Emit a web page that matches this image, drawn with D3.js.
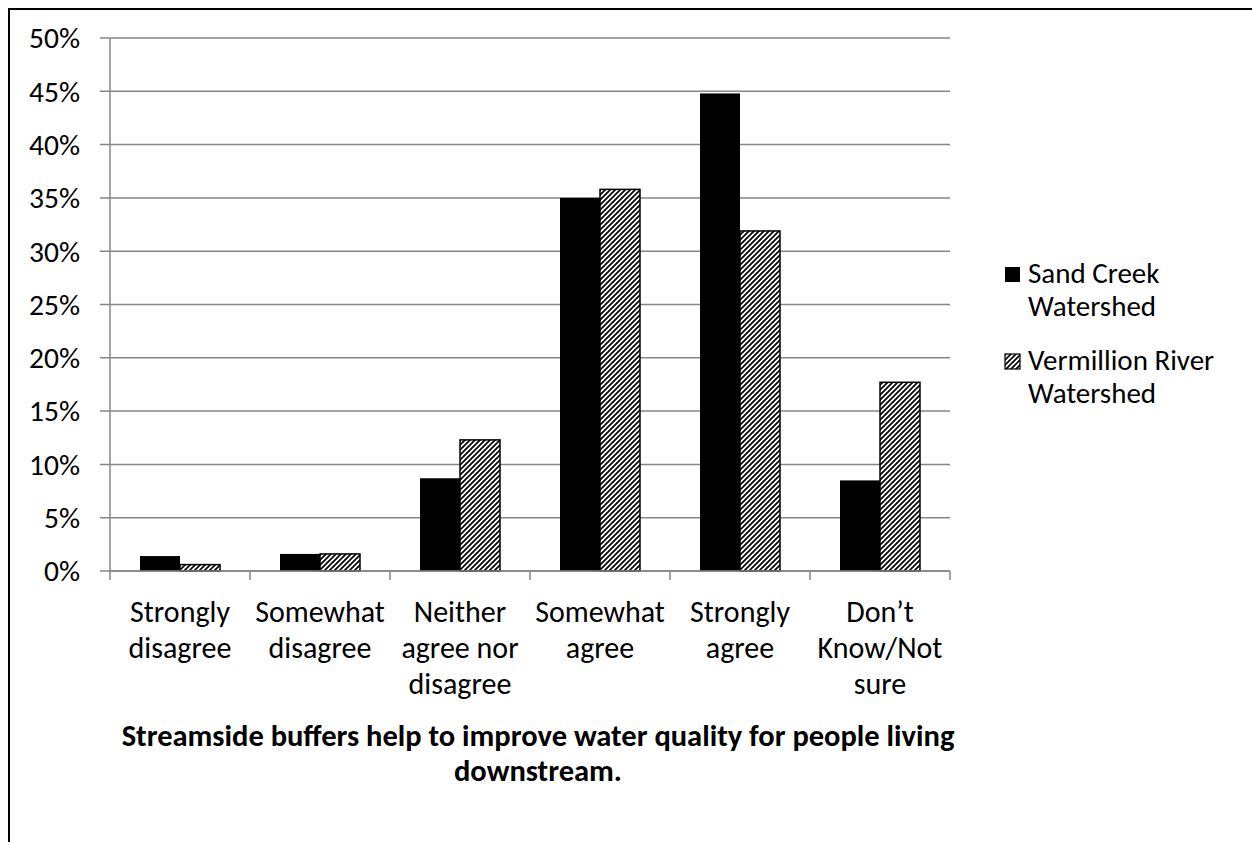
<!DOCTYPE html>
<html>
<head>
<meta charset="utf-8">
<script src="https://cdn.jsdelivr.net/npm/d3@7"></script>
<style>
  html, body { margin: 0; padding: 0; background: #fff; }
  svg { display: block; }
  text { font-family: Carlito, Lato, "Open Sans", sans-serif; fill: #000; }
</style>
</head>
<body>
<svg id="chart" width="1252" height="842"></svg>
<script>
// Survey responses, share of respondents per answer
const categories = [
  ["Strongly", "disagree"],
  ["Somewhat", "disagree"],
  ["Neither", "agree nor", "disagree"],
  ["Somewhat", "agree"],
  ["Strongly", "agree"],
  ["Don\u2019t", "Know/Not", "sure"]
];
const seriesNames = [["Sand Creek", "Watershed"], ["Vermillion River", "Watershed"]];
const sandCreek = [1.4, 1.6, 8.7, 35.0, 44.8, 8.5];
const vermillion = [0.6, 1.6, 12.3, 35.8, 31.9, 17.7];
const yTicks = [0, 5, 10, 15, 20, 25, 30, 35, 40, 45, 50];
const titleLines = ["Streamside buffers help to improve water quality for people living", "downstream."];

const svg = d3.select("#chart");
const axisGrey = "#868686";

// Outer frame (left and top edges)
svg.append("path")
  .attr("d", "M9,842 V9 H1252")
  .attr("fill", "none").attr("stroke", "#000").attr("stroke-width", 2);

// Diagonal hatch fill
const defs = svg.append("defs");
const pat = defs.append("pattern")
  .attr("id", "hatch").attr("patternUnits", "userSpaceOnUse")
  .attr("width", 5).attr("height", 5);
pat.append("rect").attr("width", 5).attr("height", 5).attr("fill", "#fff");
pat.append("path")
  .attr("d", "M-1,6 L6,-1 M-2.5,2.5 L2.5,-2.5 M2.5,7.5 L7.5,2.5")
  .attr("stroke", "#000").attr("stroke-width", 1.7);

const plot = { left: 110, right: 950, top: 38, bottom: 571 };

const x0 = d3.scaleBand()
  .domain(d3.range(categories.length))
  .range([plot.left, plot.right])
  .paddingInner(0).paddingOuter(0);
const x1 = d3.scaleBand()
  .domain([0, 1])
  .range([30, x0.bandwidth() - 30]);
const y = d3.scaleLinear().domain([0, 50]).range([plot.bottom, plot.top]);

// Gridlines + y tick marks
svg.append("g").selectAll("line").data(yTicks).join("line")
  .attr("x1", plot.left - 10).attr("x2", plot.right)
  .attr("y1", d => y(d)).attr("y2", d => y(d))
  .attr("stroke", axisGrey).attr("stroke-width", 1.5);

// Y axis labels
svg.append("g").selectAll("text").data(yTicks).join("text")
  .attr("x", 80).attr("y", d => y(d))
  .attr("dy", "0.35em")
  .attr("text-anchor", "end")
  .style("font-size", "29.5px")
  .text(d => d + "%");

// Y axis line
svg.append("line")
  .attr("x1", plot.left).attr("x2", plot.left)
  .attr("y1", plot.top).attr("y2", plot.bottom)
  .attr("stroke", axisGrey).attr("stroke-width", 1.5);

// Bars
const series = [sandCreek, vermillion];
const g = svg.append("g");
series.forEach((vals, s) => {
  g.selectAll(null).data(vals).join("rect")
    .attr("x", (d, i) => x0(i) + x1(s))
    .attr("width", x1.bandwidth())
    .attr("y", d => y(d))
    .attr("height", d => y(0) - y(d))
    .attr("fill", s === 0 ? "#000" : "url(#hatch)")
    .attr("stroke", "#000")
    .attr("stroke-width", s === 0 ? 0 : 1.5);
});

// X axis line and ticks
svg.append("line")
  .attr("x1", plot.left).attr("x2", plot.right)
  .attr("y1", plot.bottom).attr("y2", plot.bottom)
  .attr("stroke", axisGrey).attr("stroke-width", 1.5);
svg.append("g").selectAll("line")
  .data(d3.range(categories.length + 1)).join("line")
  .attr("x1", i => plot.left + i * x0.bandwidth())
  .attr("x2", i => plot.left + i * x0.bandwidth())
  .attr("y1", plot.bottom).attr("y2", plot.bottom + 9)
  .attr("stroke", axisGrey).attr("stroke-width", 1.5);

// Category labels
const catG = svg.append("g");
categories.forEach((lines, i) => {
  const t = catG.append("text")
    .attr("text-anchor", "middle")
    .style("font-size", "30px");
  lines.forEach((ln, k) => {
    t.append("tspan")
      .attr("x", x0(i) + x0.bandwidth() / 2)
      .attr("y", 622 + k * 36)
      .text(ln);
  });
});

// Axis title, one text per line
svg.append("g").selectAll("text").data(titleLines).join("text")
  .attr("x", 538)
  .attr("y", (d, k) => 746 + k * 35)
  .attr("text-anchor", "middle")
  .style("font-size", "30.5px")
  .style("font-weight", "bold")
  .text(d => d);

// Legend
const legend = svg.append("g");
seriesNames.forEach((lines, s) => {
  const top = 267 + s * 87;
  legend.append("rect")
    .attr("x", 1005).attr("y", top)
    .attr("width", 15).attr("height", 15)
    .attr("fill", s === 0 ? "#000" : "url(#hatch)")
    .attr("stroke", "#000").attr("stroke-width", s === 0 ? 0 : 1.2);
  const t = legend.append("text").style("font-size", "29px");
  lines.forEach((ln, k) => {
    t.append("tspan").attr("x", 1028).attr("y", top + 16 + k * 33).text(ln);
  });
});
</script>
</body>
</html>
